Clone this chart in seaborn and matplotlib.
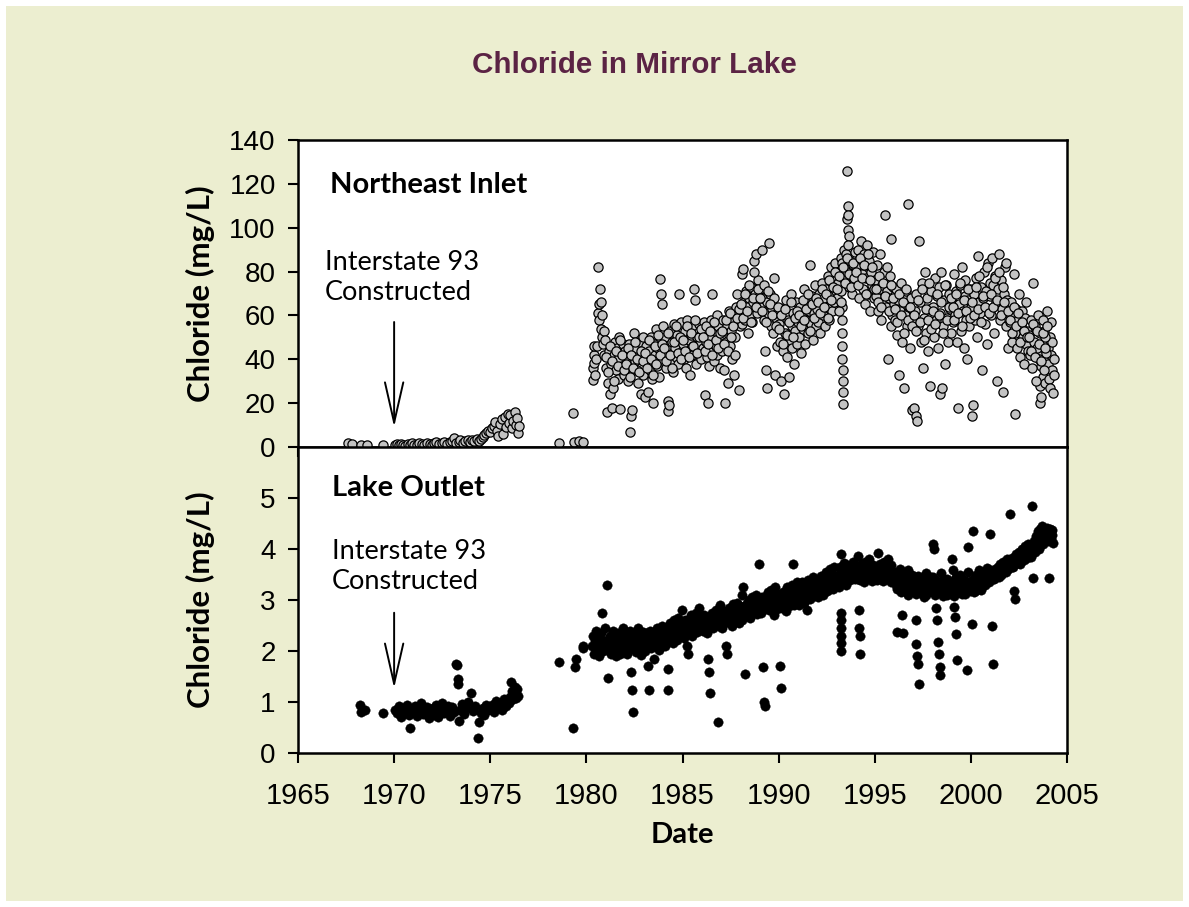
import matplotlib
matplotlib.use('Agg')
import matplotlib.pyplot as plt
from matplotlib.patches import Rectangle
from matplotlib import font_manager
import seaborn as sns

# Northeast Inlet, early record and the 1978-79 gap samples
inlet_early_yr = [1967.6, 1967.8, 1968.3, 1968.6, 1969.4,
    1970.05, 1970.15, 1970.25, 1970.35, 1970.45, 1970.55, 1970.70, 1970.80, 1970.95,
    1971.05, 1971.20, 1971.30, 1971.45, 1971.55, 1971.70, 1971.85, 1971.95,
    1972.10, 1972.20, 1972.35, 1972.50, 1972.60, 1972.75, 1972.90,
    1973.00, 1973.10, 1973.20, 1973.35, 1973.45, 1973.60, 1973.70, 1973.85, 1973.95,
    1974.05, 1974.15, 1974.30, 1974.40, 1974.50, 1974.60, 1974.70, 1974.80, 1974.90,
    1975.00, 1975.10, 1975.20, 1975.25, 1975.35, 1975.40, 1975.50, 1975.60, 1975.65, 1975.75, 1975.80, 1975.90,
    1976.00, 1976.05, 1976.15, 1976.20, 1976.30, 1976.35, 1976.40, 1976.45, 1976.50,
    1978.6, 1979.3, 1979.35, 1979.6, 1979.85]
inlet_early_cl = [1.6, 1.4, 0.8, 0.9, 0.8,
    0.9, 1.2, 0.7, 1.5, 1.0, 0.6, 1.3, 0.9, 1.8,
    1.1, 0.8, 1.6, 1.2, 0.9, 2.0, 1.4, 1.0,
    1.7, 2.2, 1.3, 1.9, 2.4, 1.5, 2.1,
    2.8, 4.0, 1.8, 2.5, 3.1, 2.0, 2.7, 3.3, 2.2,
    3.0, 2.6, 3.6, 2.9, 3.8, 4.5, 5.5, 6.3, 7.2,
    6.8, 8.5, 9.8, 11.5, 7.5, 5.0, 10.5, 12.8, 6.0, 13.5, 9.0, 15.0,
    11.0, 14.5, 8.5, 12.0, 16.0, 10.0, 13.0, 6.5, 9.5,
    1.8, 15.5, 2.5, 2.6, 2.4]

# extra inlet samples: start of 1980 record, 1993 spike, dense 2003-04 sampling
inlet_extra_yr = [1980.33, 1980.36, 1980.38, 1980.40, 1980.42, 1980.45, 1980.50, 1980.55, 1980.60, 1980.62,
    1980.65, 1980.68, 1980.72, 1980.75, 1980.78, 1980.80, 1980.83, 1980.86, 1980.90, 1980.94, 1980.97,
    1993.28, 1993.29, 1993.30, 1993.31, 1993.32, 1993.33, 1993.34, 1993.35, 1993.36,
    1993.55, 1993.57, 1993.59, 1993.60, 1993.62, 1993.65,
    2003.52, 2003.58, 2003.63, 2003.68, 2003.73, 2003.78, 2003.83, 2003.88, 2003.93, 2003.97,
    2004.00, 2004.03, 2004.06, 2004.09, 2004.12, 2004.15, 2004.18, 2004.21, 2004.24, 2004.27, 2004.30, 2004.33]
inlet_extra_cl = [30.5, 35.8, 42.0, 38.5, 46.0, 33.0, 40.0, 46.0, 82.0, 61.0,
    65.0, 58.0, 72.0, 66.0, 54.0, 50.0, 60.0, 47.0, 53.0, 42.0, 49.0,
    64.0, 58.0, 52.0, 46.0, 40.0, 35.0, 30.0, 25.0, 19.5,
    104.0, 126.0, 110.0, 106.0, 99.0, 96.0,
    42.0, 28.0, 37.0, 46.0, 32.0, 53.0, 39.0, 29.0, 44.0, 36.0,
    38.0, 45.0, 31.0, 50.0, 27.0, 42.0, 57.0, 35.0, 48.0, 24.5, 40.0, 33.0]

# regular sampling dates 1981-2003 (both stations)
sample_yr = [
    1981.02, 1981.07, 1981.12, 1981.17, 1981.22, 1981.27, 1981.32, 1981.37, 1981.42, 1981.47, 1981.52, 1981.57, 1981.62, 1981.67, 1981.72, 1981.77, 1981.82, 1981.87, 1981.92, 1981.97,
    1982.02, 1982.07, 1982.12, 1982.17, 1982.22, 1982.27, 1982.32, 1982.37, 1982.42, 1982.47, 1982.52, 1982.57, 1982.62, 1982.67, 1982.72, 1982.77, 1982.82, 1982.87, 1982.92, 1982.97,
    1983.02, 1983.07, 1983.12, 1983.17, 1983.22, 1983.27, 1983.32, 1983.37, 1983.42, 1983.47, 1983.52, 1983.57, 1983.62, 1983.67, 1983.72, 1983.77, 1983.82, 1983.87, 1983.92, 1983.97,
    1984.02, 1984.07, 1984.12, 1984.17, 1984.22, 1984.27, 1984.32, 1984.37, 1984.42, 1984.47, 1984.52, 1984.57, 1984.62, 1984.67, 1984.72, 1984.77, 1984.82, 1984.87, 1984.92, 1984.97,
    1985.02, 1985.07, 1985.12, 1985.17, 1985.22, 1985.27, 1985.32, 1985.37, 1985.42, 1985.47, 1985.52, 1985.57, 1985.62, 1985.67, 1985.72, 1985.77, 1985.82, 1985.87, 1985.92, 1985.97,
    1986.02, 1986.07, 1986.12, 1986.17, 1986.22, 1986.27, 1986.32, 1986.37, 1986.42, 1986.47, 1986.52, 1986.57, 1986.62, 1986.67, 1986.72, 1986.77, 1986.82, 1986.87, 1986.92, 1986.97,
    1987.02, 1987.07, 1987.12, 1987.17, 1987.22, 1987.27, 1987.32, 1987.37, 1987.42, 1987.47, 1987.52, 1987.57, 1987.62, 1987.67, 1987.72, 1987.77, 1987.82, 1987.87, 1987.92, 1987.97,
    1988.02, 1988.07, 1988.12, 1988.17, 1988.22, 1988.27, 1988.32, 1988.37, 1988.42, 1988.47, 1988.52, 1988.57, 1988.62, 1988.67, 1988.72, 1988.77, 1988.82, 1988.87, 1988.92, 1988.97,
    1989.02, 1989.07, 1989.12, 1989.17, 1989.22, 1989.27, 1989.32, 1989.37, 1989.42, 1989.47, 1989.52, 1989.57, 1989.62, 1989.67, 1989.72, 1989.77, 1989.82, 1989.87, 1989.92, 1989.97,
    1990.02, 1990.07, 1990.12, 1990.17, 1990.22, 1990.27, 1990.32, 1990.37, 1990.42, 1990.47, 1990.52, 1990.57, 1990.62, 1990.67, 1990.72, 1990.77, 1990.82, 1990.87, 1990.92, 1990.97,
    1991.02, 1991.07, 1991.12, 1991.17, 1991.22, 1991.27, 1991.32, 1991.37, 1991.42, 1991.47, 1991.52, 1991.57, 1991.62, 1991.67, 1991.72, 1991.77, 1991.82, 1991.87, 1991.92, 1991.97,
    1992.02, 1992.07, 1992.12, 1992.17, 1992.22, 1992.27, 1992.32, 1992.37, 1992.42, 1992.47, 1992.52, 1992.57, 1992.62, 1992.67, 1992.72, 1992.77, 1992.82, 1992.87, 1992.92, 1992.97,
    1993.02, 1993.07, 1993.12, 1993.17, 1993.22, 1993.27, 1993.32, 1993.37, 1993.42, 1993.47, 1993.52, 1993.57, 1993.62, 1993.67, 1993.72, 1993.77, 1993.82, 1993.87, 1993.92, 1993.97,
    1994.02, 1994.07, 1994.12, 1994.17, 1994.22, 1994.27, 1994.32, 1994.37, 1994.42, 1994.47, 1994.52, 1994.57, 1994.62, 1994.67, 1994.72, 1994.77, 1994.82, 1994.87, 1994.92, 1994.97,
    1995.02, 1995.07, 1995.12, 1995.17, 1995.22, 1995.27, 1995.32, 1995.37, 1995.42, 1995.47, 1995.52, 1995.57, 1995.62, 1995.67, 1995.72, 1995.77, 1995.82, 1995.87, 1995.92, 1995.97,
    1996.02, 1996.07, 1996.12, 1996.17, 1996.22, 1996.27, 1996.32, 1996.37, 1996.42, 1996.47, 1996.52, 1996.57, 1996.62, 1996.67, 1996.72, 1996.77, 1996.82, 1996.87, 1996.92, 1996.97,
    1997.02, 1997.07, 1997.12, 1997.17, 1997.22, 1997.27, 1997.32, 1997.37, 1997.42, 1997.47, 1997.52, 1997.57, 1997.62, 1997.67, 1997.72, 1997.77, 1997.82, 1997.87, 1997.92, 1997.97,
    1998.02, 1998.07, 1998.12, 1998.17, 1998.22, 1998.27, 1998.32, 1998.37, 1998.42, 1998.47, 1998.52, 1998.57, 1998.62, 1998.67, 1998.72, 1998.77, 1998.82, 1998.87, 1998.92, 1998.97,
    1999.02, 1999.07, 1999.12, 1999.17, 1999.22, 1999.27, 1999.32, 1999.37, 1999.42, 1999.47, 1999.52, 1999.57, 1999.62, 1999.67, 1999.72, 1999.77, 1999.82, 1999.87, 1999.92, 1999.97,
    2000.02, 2000.07, 2000.12, 2000.17, 2000.22, 2000.27, 2000.32, 2000.37, 2000.42, 2000.47, 2000.52, 2000.57, 2000.62, 2000.67, 2000.72, 2000.77, 2000.82, 2000.87, 2000.92, 2000.97,
    2001.02, 2001.07, 2001.12, 2001.17, 2001.22, 2001.27, 2001.32, 2001.37, 2001.42, 2001.47, 2001.52, 2001.57, 2001.62, 2001.67, 2001.72, 2001.77, 2001.82, 2001.87, 2001.92, 2001.97,
    2002.02, 2002.07, 2002.12, 2002.17, 2002.22, 2002.27, 2002.32, 2002.37, 2002.42, 2002.47, 2002.52, 2002.57, 2002.62, 2002.67, 2002.72, 2002.77, 2002.82, 2002.87, 2002.92, 2002.97,
    2003.02, 2003.07, 2003.12, 2003.17, 2003.22, 2003.27, 2003.32, 2003.37, 2003.42, 2003.47, 2003.52, 2003.57, 2003.62, 2003.67, 2003.72, 2003.77, 2003.82, 2003.87, 2003.92, 2003.97]

inlet_cl = [
    36.0, 16.0, 29.0, 44.0, 24.0, 38.0, 17.6, 27.0, 42.0, 48.0, 35.0, 45.0, 40.0, 31.0, 50.0, 17.3, 43.0, 37.0, 47.0, 33.0,
    44.0, 36.0, 41.0, 30.0, 47.0, 7.0, 14.0, 17.0, 43.0, 52.0, 39.0, 45.0, 35.0, 29.0, 48.0, 40.0, 24.0, 42.0, 50.0, 33.0,
    41.0, 23.0, 46.0, 38.0, 25.0, 44.0, 35.0, 50.0, 31.0, 20.0, 47.0, 42.0, 54.0, 37.0, 45.0, 32.0, 76.5, 70.0, 65.0, 55.0,
    43.0, 50.0, 36.0, 46.0, 21.0, 16.5, 19.0, 53.0, 39.0, 48.0, 34.0, 56.0, 45.0, 41.0, 51.0, 38.0, 70.0, 49.0, 57.0, 44.0,
    47.0, 40.0, 53.0, 36.0, 58.0, 44.0, 49.0, 33.0, 51.0, 42.0, 55.0, 46.0, 72.0, 67.0, 38.0, 50.0, 43.0, 56.0, 47.0, 40.0,
    52.0, 45.0, 57.0, 23.5, 48.0, 41.0, 20.0, 37.0, 50.0, 58.0, 70.0, 47.0, 39.0, 53.0, 46.0, 60.0, 42.0, 55.0, 49.0, 36.0,
    51.0, 44.0, 58.0, 35.0, 20.0, 48.0, 55.0, 29.0, 62.0, 46.0, 53.0, 40.0, 57.0, 33.0, 50.0, 64.0, 70.0, 60.0, 26.0, 55.0,
    62.0, 56.0, 79.0, 81.0, 66.0, 58.0, 71.0, 64.0, 52.0, 68.0, 60.0, 73.0, 57.0, 66.0, 85.0, 70.0, 88.0, 61.0, 76.0, 67.0,
    72.0, 64.0, 90.0, 68.0, 58.0, 44.0, 35.0, 27.0, 66.0, 61.0, 93.0, 70.0, 55.0, 63.0, 52.0, 68.0, 33.0, 59.0, 46.0, 62.0,
    56.0, 48.0, 30.0, 63.0, 44.0, 24.0, 52.0, 67.0, 41.0, 58.0, 32.0, 49.0, 70.0, 55.0, 45.0, 61.0, 38.0, 53.0, 66.0, 47.0,
    57.0, 50.0, 64.0, 43.0, 60.0, 54.0, 72.0, 47.0, 58.0, 66.0, 52.0, 62.0, 83.0, 56.0, 69.0, 49.0, 61.0, 74.0, 55.0, 65.0,
    63.0, 57.0, 70.0, 52.0, 66.0, 75.0, 60.0, 68.0, 55.0, 72.0, 64.0, 78.0, 58.0, 69.0, 82.0, 62.0, 74.0, 66.0, 84.0, 71.0,
    68.0, 75.0, 62.0, 80.0, 71.0, 86.0, 84.0, 77.0, 90.0, 82.0, 88.0, 80.0, 92.0, 73.0, 85.0, 78.0, 70.0, 83.0, 76.0, 89.0,
    82.0, 75.0, 90.0, 68.0, 86.0, 94.0, 79.0, 72.0, 88.0, 65.0, 83.0, 77.0, 92.0, 70.0, 85.0, 62.0, 80.0, 74.0, 89.0, 68.0,
    76.0, 69.0, 83.0, 62.0, 72.0, 88.0, 58.0, 74.0, 66.0, 80.0, 106.0, 64.0, 71.0, 40.0, 68.0, 78.0, 55.0, 95.0, 60.0, 73.0,
    65.0, 58.0, 72.0, 51.0, 67.0, 33.0, 62.0, 75.0, 48.0, 69.0, 27.0, 60.0, 71.0, 55.0, 111.0, 64.0, 45.0, 68.0, 17.0, 59.0,
    18.0, 62.0, 14.0, 70.0, 12.0, 55.0, 94.0, 66.0, 48.0, 75.0, 36.0, 59.0, 80.0, 52.0, 68.0, 44.0, 63.0, 28.0, 71.0, 57.0,
    64.0, 50.0, 77.0, 58.0, 69.0, 45.0, 73.0, 24.0, 61.0, 80.0, 27.0, 55.0, 67.0, 38.0, 74.0, 59.0, 48.0, 70.0, 63.0, 52.0,
    66.0, 57.0, 79.0, 60.0, 71.0, 48.0, 18.0, 65.0, 74.0, 53.0, 82.0, 62.0, 45.0, 69.0, 76.0, 58.0, 40.0, 67.0, 55.0, 72.0,
    64.0, 14.0, 19.0, 70.0, 58.0, 77.0, 50.0, 87.0, 66.0, 61.0, 73.0, 35.0, 68.0, 80.0, 56.0, 71.0, 47.0, 84.0, 63.0, 75.0,
    69.0, 60.0, 86.0, 74.0, 52.0, 78.0, 66.0, 30.0, 72.0, 88.0, 58.0, 76.0, 63.0, 25.0, 70.0, 82.0, 55.0, 67.0, 45.0, 61.0,
    57.0, 66.0, 48.0, 60.0, 79.0, 52.0, 15.0, 63.0, 45.0, 58.0, 70.0, 41.0, 55.0, 62.0, 50.0, 38.0, 59.0, 47.0, 53.0, 44.0,
    51.0, 42.0, 58.0, 36.0, 75.0, 48.0, 55.0, 30.0, 45.0, 60.0, 40.0, 52.0, 20.0, 23.0, 47.0, 58.0, 35.0, 50.0, 43.0, 62.0]

# in-between sampling dates 1981-2003 (both stations)
mid_yr = [
    1981.045, 1981.145, 1981.245, 1981.345, 1981.445, 1981.545, 1981.645, 1981.745, 1981.845, 1981.945,
    1982.045, 1982.145, 1982.245, 1982.345, 1982.445, 1982.545, 1982.645, 1982.745, 1982.845, 1982.945,
    1983.045, 1983.145, 1983.245, 1983.345, 1983.445, 1983.545, 1983.645, 1983.745, 1983.845, 1983.945,
    1984.045, 1984.145, 1984.245, 1984.345, 1984.445, 1984.545, 1984.645, 1984.745, 1984.845, 1984.945,
    1985.045, 1985.145, 1985.245, 1985.345, 1985.445, 1985.545, 1985.645, 1985.745, 1985.845, 1985.945,
    1986.045, 1986.145, 1986.245, 1986.345, 1986.445, 1986.545, 1986.645, 1986.745, 1986.845, 1986.945,
    1987.045, 1987.145, 1987.245, 1987.345, 1987.445, 1987.545, 1987.645, 1987.745, 1987.845, 1987.945,
    1988.045, 1988.145, 1988.245, 1988.345, 1988.445, 1988.545, 1988.645, 1988.745, 1988.845, 1988.945,
    1989.045, 1989.145, 1989.245, 1989.345, 1989.445, 1989.545, 1989.645, 1989.745, 1989.845, 1989.945,
    1990.045, 1990.145, 1990.245, 1990.345, 1990.445, 1990.545, 1990.645, 1990.745, 1990.845, 1990.945,
    1991.045, 1991.145, 1991.245, 1991.345, 1991.445, 1991.545, 1991.645, 1991.745, 1991.845, 1991.945,
    1992.045, 1992.145, 1992.245, 1992.345, 1992.445, 1992.545, 1992.645, 1992.745, 1992.845, 1992.945,
    1993.045, 1993.145, 1993.245, 1993.345, 1993.445, 1993.545, 1993.645, 1993.745, 1993.845, 1993.945,
    1994.045, 1994.145, 1994.245, 1994.345, 1994.445, 1994.545, 1994.645, 1994.745, 1994.845, 1994.945,
    1995.045, 1995.145, 1995.245, 1995.345, 1995.445, 1995.545, 1995.645, 1995.745, 1995.845, 1995.945,
    1996.045, 1996.145, 1996.245, 1996.345, 1996.445, 1996.545, 1996.645, 1996.745, 1996.845, 1996.945,
    1997.045, 1997.145, 1997.245, 1997.345, 1997.445, 1997.545, 1997.645, 1997.745, 1997.845, 1997.945,
    1998.045, 1998.145, 1998.245, 1998.345, 1998.445, 1998.545, 1998.645, 1998.745, 1998.845, 1998.945,
    1999.045, 1999.145, 1999.245, 1999.345, 1999.445, 1999.545, 1999.645, 1999.745, 1999.845, 1999.945,
    2000.045, 2000.145, 2000.245, 2000.345, 2000.445, 2000.545, 2000.645, 2000.745, 2000.845, 2000.945,
    2001.045, 2001.145, 2001.245, 2001.345, 2001.445, 2001.545, 2001.645, 2001.745, 2001.845, 2001.945,
    2002.045, 2002.145, 2002.245, 2002.345, 2002.445, 2002.545, 2002.645, 2002.745, 2002.845, 2002.945,
    2003.045, 2003.145, 2003.245, 2003.345, 2003.445, 2003.545, 2003.645, 2003.745, 2003.845, 2003.945]

inlet_mid_cl = [
    41, 34, 46, 39, 30, 44, 37, 49, 42, 35,
    38, 45, 32, 42, 36, 48, 40, 34, 44, 39,
    43, 36, 49, 40, 33, 46, 38, 51, 42, 47,
    45, 39, 52, 42, 36, 48, 55, 43, 50, 40,
    49, 44, 55, 41, 52, 46, 58, 43, 50, 54,
    50, 44, 55, 47, 53, 42, 57, 49, 45, 52,
    53, 47, 58, 44, 61, 50, 55, 42, 59, 63,
    65, 59, 70, 62, 74, 57, 68, 80, 64, 72,
    68, 62, 74, 57, 71, 65, 60, 77, 55, 64,
    54, 60, 47, 63, 51, 57, 66, 50, 59, 62,
    60, 55, 67, 58, 63, 70, 53, 65, 59, 68,
    66, 61, 72, 64, 70, 59, 76, 67, 73, 80,
    72, 78, 66, 82, 75, 86, 79, 73, 84, 77,
    80, 74, 86, 77, 83, 70, 88, 76, 82, 72,
    72, 66, 78, 64, 75, 69, 82, 62, 74, 68,
    63, 57, 70, 60, 66, 52, 72, 58, 64, 55,
    60, 53, 67, 57, 72, 49, 63, 58, 75, 54,
    62, 56, 70, 60, 66, 52, 74, 58, 64, 68,
    64, 58, 70, 61, 75, 55, 67, 62, 72, 59,
    66, 60, 73, 63, 78, 57, 69, 64, 82, 61,
    70, 64, 77, 67, 80, 60, 73, 66, 84, 62,
    58, 52, 64, 55, 61, 48, 57, 53, 66, 50,
    50, 44, 56, 41, 53, 47, 39, 52, 45, 55]

# Lake Outlet
outlet_early_yr = [1968.2, 1968.3, 1968.5, 1969.4,
    1970.05, 1970.15, 1970.25, 1970.35, 1970.45, 1970.55, 1970.65, 1970.75, 1970.80, 1970.90,
    1971.00, 1971.10, 1971.20, 1971.30, 1971.40, 1971.50, 1971.60, 1971.70, 1971.80, 1971.90,
    1972.00, 1972.10, 1972.20, 1972.30, 1972.40, 1972.50, 1972.60, 1972.70, 1972.80, 1972.90,
    1973.00, 1973.10, 1973.22, 1973.28, 1973.30, 1973.34, 1973.36, 1973.45, 1973.55, 1973.65, 1973.75, 1973.85,
    1974.00, 1974.10, 1974.20, 1974.35, 1974.40, 1974.50, 1974.60, 1974.70, 1974.80, 1974.90,
    1975.00, 1975.10, 1975.20, 1975.30, 1975.40, 1975.50, 1975.60, 1975.70, 1975.80, 1975.90,
    1976.00, 1976.05, 1976.10, 1976.15, 1976.20, 1976.25, 1976.30, 1976.35, 1976.40, 1976.45,
    1978.6, 1979.3, 1979.4, 1979.45, 1979.8, 1979.85]
outlet_early_cl = [0.95, 0.80, 0.85, 0.78,
    0.85, 0.78, 0.92, 0.70, 0.88, 0.82, 0.95, 0.75, 0.50, 0.86,
    0.80, 0.93, 0.72, 0.87, 0.98, 0.76, 0.84, 0.90, 0.68, 0.82,
    0.88, 0.75, 0.95, 0.70, 0.83, 0.99, 0.78, 0.86, 0.92, 0.73,
    0.90, 0.80, 1.75, 1.72, 1.45, 1.35, 0.62, 0.85, 0.96, 0.76, 0.89, 1.00,
    1.17, 0.82, 0.93, 0.30, 0.60, 0.78, 0.88, 0.74, 0.95, 0.84,
    0.86, 0.95, 0.80, 1.02, 0.90, 0.97, 0.85, 1.05, 0.93, 1.00,
    0.98, 1.10, 1.40, 1.22, 1.05, 1.15, 1.30, 1.08, 1.25, 1.12,
    1.78, 0.50, 1.68, 1.85, 2.05, 2.10]

outlet_extra_yr = [1980.30, 1980.35, 1980.40, 1980.45, 1980.50, 1980.55, 1980.60, 1980.65, 1980.70, 1980.75,
    1980.80, 1980.85, 1980.90, 1980.95,
    1993.22, 1993.22, 1993.22, 1993.22, 1993.22, 1993.23, 1994.20, 1994.20, 1994.21, 1994.21,
    2004.00, 2004.03, 2004.06, 2004.09, 2004.12, 2004.15, 2004.18, 2004.21, 2004.24, 2004.27]
outlet_extra_cl = [2.10, 2.30, 1.95, 2.20, 2.40, 2.05, 2.25, 1.90, 2.15, 2.35,
    2.75, 2.00, 2.20, 2.45,
    2.60, 2.45, 2.30, 2.15, 2.00, 2.75, 2.80, 2.46, 2.30, 1.95,
    4.30, 4.15, 3.43, 4.40, 4.25, 4.35, 4.20, 4.38, 4.28, 4.12]

outlet_cl = [
    2.20, 3.30, 1.48, 2.05, 2.30, 1.95, 2.15, 2.40, 2.00, 2.25, 1.90, 2.10, 2.35, 2.05, 2.20, 1.95, 2.30, 2.10, 2.45, 2.00,
    2.15, 2.35, 1.95, 2.25, 2.05, 2.40, 1.59, 1.23, 0.81, 2.10, 2.30, 1.98, 2.20, 2.45, 2.08, 2.28, 1.92, 2.18, 2.38, 2.12,
    2.22, 2.00, 2.35, 2.12, 1.70, 1.23, 2.40, 2.05, 2.28, 2.15, 1.85, 2.32, 2.10, 2.45, 2.20, 2.02, 2.38, 2.25, 2.50, 2.15,
    2.30, 2.10, 2.45, 2.20, 1.65, 1.23, 2.38, 2.55, 2.25, 2.42, 2.15, 2.60, 2.35, 2.48, 2.22, 2.65, 2.40, 2.30, 2.52, 2.80,
    2.45, 2.25, 2.60, 2.35, 2.10, 1.95, 2.55, 2.40, 2.70, 2.48, 2.30, 2.62, 2.50, 2.38, 2.75, 2.55, 2.42, 2.85, 2.60, 2.50,
    2.55, 2.40, 2.70, 2.48, 2.62, 2.35, 1.85, 1.59, 1.18, 2.58, 2.75, 2.45, 2.65, 2.52, 2.80, 2.60, 2.72, 0.61, 2.50, 2.90,
    2.62, 2.45, 2.78, 2.55, 2.70, 2.10, 1.95, 2.68, 2.85, 2.58, 2.75, 2.50, 2.92, 2.65, 2.80, 2.60, 2.95, 2.72, 2.55, 2.88,
    2.75, 2.60, 3.10, 3.25, 2.85, 1.54, 2.70, 2.95, 2.80, 3.00, 2.65, 2.90, 3.05, 2.78, 2.98, 2.85, 3.10, 2.72, 2.95, 3.70,
    2.90, 2.75, 3.05, 1.68, 1.00, 0.93, 2.85, 3.10, 2.95, 3.15, 2.80, 3.00, 3.20, 2.88, 3.08, 2.70, 3.25, 2.98, 2.82, 3.12,
    3.00, 1.70, 1.27, 2.85, 3.15, 2.92, 3.10, 2.78, 3.25, 3.02, 2.88, 3.18, 2.95, 3.30, 3.08, 3.70, 2.90, 3.22, 3.05, 3.35,
    3.05, 2.90, 3.20, 3.00, 3.35, 3.10, 2.95, 3.28, 3.12, 2.80, 3.40, 3.18, 3.02, 3.30, 3.15, 3.45, 3.08, 3.25, 3.38, 3.20,
    3.20, 3.05, 3.35, 3.15, 3.48, 3.25, 3.10, 3.40, 3.30, 3.55, 3.18, 3.42, 3.28, 3.60, 3.35, 3.50, 3.22, 3.65, 3.45, 3.32,
    3.35, 3.50, 3.25, 3.65, 3.90, 3.45, 3.60, 3.38, 3.72, 3.52, 3.30, 3.68, 3.45, 3.58, 3.40, 3.62, 3.48, 3.75, 3.55, 3.42,
    3.45, 3.60, 3.87, 3.55, 3.40, 3.70, 3.48, 3.62, 3.35, 3.75, 3.52, 3.42, 3.66, 3.50, 3.80, 3.45, 3.58, 3.38, 3.68, 3.50,
    3.50, 3.65, 3.40, 3.93, 3.55, 3.70, 3.45, 3.60, 3.38, 3.75, 3.52, 3.62, 3.42, 3.80, 3.48, 3.58, 3.35, 3.68, 3.50, 3.40,
    3.40, 3.55, 3.30, 2.37, 3.48, 3.25, 3.60, 3.38, 2.70, 2.35, 3.52, 3.30, 3.45, 3.20, 3.58, 3.35, 3.42, 3.28, 3.50, 3.22,
    3.30, 3.45, 2.60, 2.14, 1.90, 1.75, 1.35, 3.20, 3.38, 3.15, 3.42, 3.25, 3.35, 3.10, 3.48, 3.22, 3.32, 3.18, 3.40, 3.28,
    4.10, 4.00, 3.25, 2.85, 2.60, 2.17, 1.95, 1.68, 1.52, 3.35, 3.15, 3.28, 3.42, 3.20, 3.32, 3.10, 3.38, 3.22, 3.30, 3.18,
    3.80, 3.58, 2.86, 2.66, 2.34, 1.82, 3.25, 3.35, 3.15, 3.28, 3.40, 3.20, 3.32, 3.12, 3.38, 3.25, 1.62, 4.03, 3.30, 3.22,
    3.25, 2.52, 4.36, 3.35, 3.18, 3.30, 3.42, 3.22, 3.38, 3.28, 3.45, 3.32, 3.50, 3.35, 3.55, 3.40, 3.48, 3.60, 3.42, 3.52,
    4.29, 3.50, 2.49, 1.75, 3.42, 3.60, 3.48, 3.55, 3.65, 3.45, 3.70, 3.58, 3.52, 3.75, 3.62, 3.68, 3.55, 3.80, 3.65, 3.72,
    4.68, 3.70, 3.82, 3.65, 3.18, 3.02, 3.78, 3.90, 3.72, 3.85, 3.95, 3.75, 3.88, 4.00, 3.80, 3.92, 4.05, 3.85, 3.98, 4.10,
    3.95, 4.05, 3.90, 4.84, 3.44, 4.15, 4.00, 4.25, 4.10, 4.35, 4.20, 4.40, 4.28, 4.15, 4.45, 4.32, 4.22, 4.38, 4.18, 4.42]

outlet_mid_cl = [
    2.15, 2.05, 2.25, 2.10, 2.20, 2.00, 2.30, 2.12, 2.22, 2.08,
    2.18, 2.10, 2.28, 2.05, 2.22, 2.15, 2.32, 2.08, 2.25, 2.20,
    2.20, 2.28, 2.12, 2.35, 2.18, 2.30, 2.10, 2.38, 2.25, 2.32,
    2.32, 2.25, 2.40, 2.30, 2.45, 2.28, 2.50, 2.35, 2.42, 2.55,
    2.42, 2.35, 2.50, 2.40, 2.58, 2.45, 2.52, 2.38, 2.62, 2.48,
    2.50, 2.45, 2.58, 2.52, 2.62, 2.48, 2.68, 2.55, 2.65, 2.60,
    2.60, 2.55, 2.68, 2.62, 2.72, 2.58, 2.78, 2.65, 2.75, 2.70,
    2.78, 2.70, 2.88, 2.82, 2.92, 2.76, 2.95, 2.85, 2.90, 2.88,
    2.90, 2.85, 2.98, 2.92, 3.02, 2.88, 3.05, 2.95, 3.00, 2.96,
    2.98, 2.92, 3.05, 3.00, 3.10, 2.95, 3.15, 3.04, 3.12, 3.08,
    3.10, 3.05, 3.18, 3.12, 3.22, 3.08, 3.25, 3.15, 3.20, 3.18,
    3.22, 3.18, 3.30, 3.25, 3.35, 3.20, 3.40, 3.32, 3.38, 3.36,
    3.40, 3.35, 3.48, 3.42, 3.52, 3.38, 3.55, 3.45, 3.50, 3.48,
    3.48, 3.42, 3.55, 3.50, 3.60, 3.45, 3.62, 3.52, 3.58, 3.55,
    3.52, 3.48, 3.58, 3.50, 3.62, 3.46, 3.60, 3.50, 3.45, 3.42,
    3.50, 3.22, 3.45, 3.15, 3.55, 3.30, 3.42, 3.10, 3.38, 3.25,
    3.40, 3.12, 3.48, 3.20, 3.35, 3.05, 3.52, 3.18, 3.30, 3.45,
    3.45, 3.10, 3.38, 3.22, 3.52, 3.08, 3.30, 3.42, 3.15, 3.35,
    3.35, 3.08, 3.45, 3.20, 3.50, 3.12, 3.40, 3.25, 3.55, 3.18,
    3.40, 3.15, 3.50, 3.25, 3.58, 3.20, 3.45, 3.30, 3.62, 3.35,
    3.48, 3.42, 3.52, 3.48, 3.58, 3.50, 3.62, 3.55, 3.65, 3.60,
    3.70, 3.65, 3.75, 3.72, 3.80, 3.70, 3.85, 3.78, 3.88, 3.82,
    3.90, 3.85, 3.98, 3.95, 4.05, 4.00, 4.15, 4.10, 4.25, 4.20]

year_ticks = [1965, 1970, 1975, 1980, 1985, 1990, 1995, 2000, 2005]
inlet_ticks = [0, 20, 40, 60, 80, 100, 120, 140]
outlet_ticks = [0, 1, 2, 3, 4, 5]

inlet_x = inlet_early_yr + inlet_extra_yr + sample_yr + mid_yr
inlet_y = inlet_early_cl + inlet_extra_cl + inlet_cl + inlet_mid_cl
outlet_x = outlet_early_yr + outlet_extra_yr + sample_yr + mid_yr
outlet_y = outlet_early_cl + outlet_extra_cl + outlet_cl + outlet_mid_cl

installed = {f.name for f in font_manager.fontManager.ttflist}
label_font = 'Lato' if 'Lato' in installed else 'DejaVu Sans'
tick_font = 'Liberation Sans'

sns.set_style('white')
plt.rcParams['font.family'] = [tick_font, 'DejaVu Sans']
plt.rcParams['text.color'] = 'black'
plt.rcParams['axes.labelcolor'] = 'black'
plt.rcParams['xtick.color'] = 'black'
plt.rcParams['ytick.color'] = 'black'

fig = plt.figure(figsize=(11.89, 9.07), dpi=100)
fig.patch.set_facecolor('white')
fig.patches.append(Rectangle((6 / 1189, 6 / 907), 1 - 12 / 1189, 1 - 12 / 907,
                             transform=fig.transFigure, facecolor='#ECEED0',
                             edgecolor='none', zorder=-10))

ax1 = fig.add_axes([298 / 1189, 1 - 447 / 907, 769 / 1189, 307 / 907])
ax2 = fig.add_axes([298 / 1189, 1 - 753 / 907, 769 / 1189, 306 / 907])

sns.scatterplot(x=inlet_x, y=inlet_y, ax=ax1, s=44, color='#C3C3C3',
                edgecolor='black', linewidth=0.9, legend=False, zorder=3)
sns.scatterplot(x=outlet_x, y=outlet_y, ax=ax2, s=46, color='black',
                edgecolor='black', linewidth=0.3, legend=False, zorder=3)

for ax in (ax1, ax2):
    ax.set_facecolor('white')
    ax.set_xlim(1965, 2005)
    ax.set_xticks(year_ticks)
    for sp in ax.spines.values():
        sp.set_visible(True)
        sp.set_color('black')
        sp.set_linewidth(1.8)
    ax.tick_params(axis='both', direction='out', length=7, width=1.5,
                   color='black', labelcolor='black', bottom=True, left=True)
    ax.tick_params(axis='y', pad=9, labelsize=20)
    ax.set_ylabel('Chloride (mg/L)', family=label_font, fontweight='bold', fontsize=22.5)
    ax.yaxis.set_label_coords(-0.108, 0.5)

ax1.set_ylim(0, 140)
ax1.set_yticks(inlet_ticks)
ax1.tick_params(axis='x', labelbottom=False)

ax2.set_ylim(0, 6)
ax2.set_yticks(outlet_ticks)
ax2.tick_params(axis='x', pad=14, labelsize=21)
ax2.set_xlabel('Date', family=label_font, fontweight='bold', fontsize=21)
ax2.xaxis.set_label_coords(0.5, -0.225)

# panel names and the I-93 marker
ax1.text(1966.66, 119.5, 'Northeast Inlet', family=label_font, fontweight='bold',
         fontsize=21, va='center', ha='left')
ax2.text(1966.77, 5.2, 'Lake Outlet', family=label_font, fontweight='bold',
         fontsize=21, va='center', ha='left')

ax1.text(1966.4, 77.5, 'Interstate 93\nConstructed', family=label_font, fontsize=19.5,
         va='center', ha='left', linespacing=1.25)
ax2.text(1966.75, 3.65, 'Interstate 93\nConstructed', family=label_font, fontsize=19.5,
         va='center', ha='left', linespacing=1.25)

arrow = dict(arrowstyle='->,head_length=1.45,head_width=0.33', lw=1.4,
             color='black', mutation_scale=20, shrinkA=0, shrinkB=0)
ax1.annotate('', xy=(1970.0, 9.1), xytext=(1970.0, 57), arrowprops=arrow)
ax2.annotate('', xy=(1970.0, 1.27), xytext=(1970.0, 2.75), arrowprops=arrow)

fig.text(634 / 1189, 1 - 65 / 907, 'Chloride in Mirror Lake', family=tick_font,
         fontweight='bold', fontsize=21.3, color='#5B2344', ha='center', va='center')

fig.savefig('out.png', dpi=100, facecolor=fig.get_facecolor())
